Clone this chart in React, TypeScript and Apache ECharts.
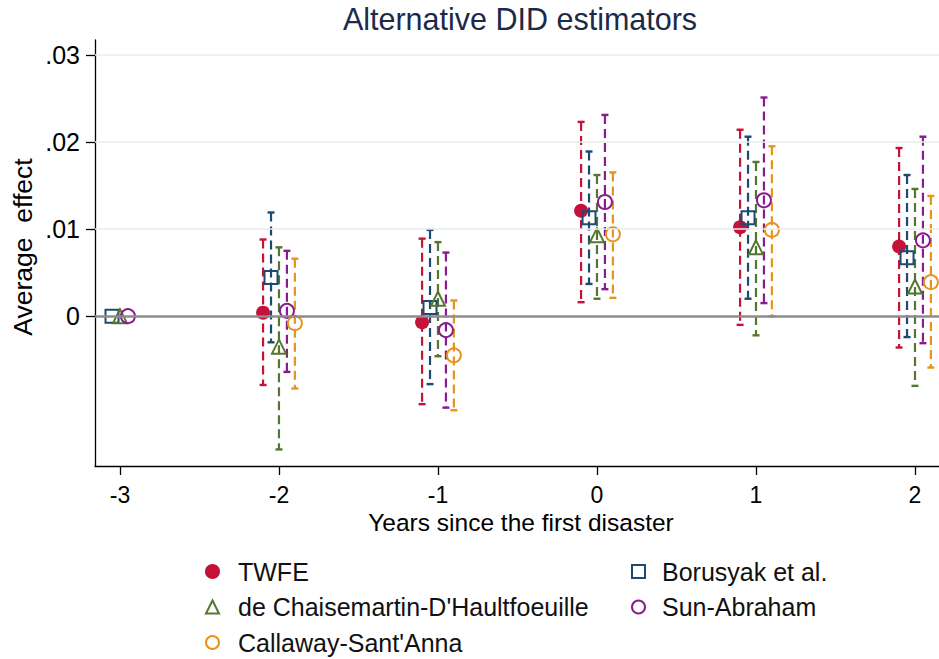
import { useEffect, useRef } from "react";
import * as echarts from "echarts";

// ---- data ----
const periods = [-3, -2, -1, 0, 1, 2];
const xTicks = [-3, -2, -1, 0, 1, 2];
const yTicks = [0, 0.01, 0.02, 0.03];

const seriesNames = [
  "TWFE",
  "Borusyak et al.",
  "de Chaisemartin-D'Haultfoeuille",
  "Sun-Abraham",
  "Callaway-Sant'Anna",
];

const twfeEst = [null, 0.0004, -0.0007, 0.0121, 0.0102, 0.008];
const twfeLo = [null, -0.0079, -0.0101, 0.0016, -0.001, -0.0036];
const twfeHi = [null, 0.0088, 0.0089, 0.0223, 0.0214, 0.0193];

const borEst = [0, 0.00445, 0.001, 0.0113, 0.0113, 0.0067];
const borLo = [null, -0.003, -0.0078, 0.0037, 0.002, -0.0024];
const borHi = [null, 0.0119, 0.0099, 0.0189, 0.0206, 0.0162];

const dcdhEst = [0, -0.0035, 0.002, 0.0093, 0.0079, 0.0034];
const dcdhLo = [null, -0.0153, -0.0046, 0.002, -0.0022, -0.008];
const dcdhHi = [null, 0.0079, 0.0085, 0.0162, 0.0177, 0.0146];

const saEst = [0, 0.0006, -0.0016, 0.0131, 0.0133, 0.0087];
const saLo = [null, -0.0064, -0.0105, 0.0031, 0.0015, -0.0031];
const saHi = [null, 0.0075, 0.0073, 0.0231, 0.0251, 0.0206];

const csaEst = [null, -0.0008, -0.0045, 0.0094, 0.0099, 0.0039];
const csaLo = [null, -0.0083, -0.0108, 0.0021, 0.0, -0.0059];
const csaHi = [null, 0.0066, 0.0018, 0.0165, 0.0195, 0.0138];

// ---- styling ----
const FONT = "'Liberation Sans', Arial, Helvetica, sans-serif";
const colors = ["#c41239", "#1b4a72", "#55762f", "#8a1a90", "#e8931c"];
const symbols = ["circle", "rect", "triangle", "circle", "circle"];
const symbolSizes = [14, 13, 14, 14, 14];
const filled = [true, false, false, false, false];
const offsets = [-0.1, -0.05, 0, 0.05, 0.1];

const estimates = [twfeEst, borEst, dcdhEst, saEst, csaEst];
const lows = [twfeLo, borLo, dcdhLo, saLo, csaLo];
const highs = [twfeHi, borHi, dcdhHi, saHi, csaHi];

function buildOption() {
  const series: any[] = [];

  // error bars
  seriesNames.forEach((name, i) => {
    const data: number[][] = [];
    periods.forEach((p, k) => {
      const lo = lows[i][k];
      const hi = highs[i][k];
      if (lo !== null && hi !== null) data.push([p + offsets[i], lo as number, hi as number]);
    });
    const color = colors[i];
    const s: any = {
      name: name + " CI",
      type: "custom",
      z: 2,
      silent: true,
      encode: { x: 0, y: [1, 2] },
      data,
      renderItem: (_params: any, api: any) => {
        const x = api.value(0);
        const pLo = api.coord([x, api.value(1)]);
        const pHi = api.coord([x, api.value(2)]);
        const cw = 3.5;
        return {
          type: "group",
          children: [
            {
              type: "line",
              shape: { x1: pHi[0], y1: pHi[1], x2: pLo[0], y2: pLo[1] },
              style: { stroke: color, lineWidth: 2.2, lineDash: [9, 5] },
            },
            {
              type: "line",
              shape: { x1: pHi[0] - cw, y1: pHi[1], x2: pHi[0] + cw, y2: pHi[1] },
              style: { stroke: color, lineWidth: 2.4 },
            },
            {
              type: "line",
              shape: { x1: pLo[0] - cw, y1: pLo[1], x2: pLo[0] + cw, y2: pLo[1] },
              style: { stroke: color, lineWidth: 2.4 },
            },
          ],
        };
      },
    };
    if (i === 0) {
      s.markLine = {
        silent: true,
        symbol: "none",
        label: { show: false },
        animation: false,
        data: [
          { yAxis: 0.01, lineStyle: { color: "#e6eef0", width: 1.5, type: "solid" } },
          { yAxis: 0.02, lineStyle: { color: "#e6eef0", width: 1.5, type: "solid" } },
          { yAxis: 0.03, lineStyle: { color: "#e6eef0", width: 1.5, type: "solid" } },
          { yAxis: 0, lineStyle: { color: "#8c8c8c", width: 2.5, type: "solid" } },
        ],
      };
    }
    series.push(s);
  });

  // point estimates
  seriesNames.forEach((name, i) => {
    const data: number[][] = [];
    periods.forEach((p, k) => {
      const v = estimates[i][k];
      if (v !== null) data.push([p + offsets[i], v as number]);
    });
    series.push({
      name,
      type: "scatter",
      z: 3,
      symbol: symbols[i],
      symbolSize: symbolSizes[i],
      data,
      itemStyle: {
        color: filled[i] ? colors[i] : "transparent",
        borderColor: colors[i],
        borderWidth: filled[i] ? 0 : 2,
        opacity: 1,
      },
    });
  });

  const legendCommon = {
    orient: "vertical",
    top: 559,
    padding: 0,
    itemWidth: 13,
    itemHeight: 13,
    itemGap: 10.5,
    selectedMode: false,
    symbolKeepAspect: true,
    itemStyle: { borderWidth: 2 },
  };

  return {
    animation: false,
    backgroundColor: "#ffffff",
    textStyle: { fontFamily: FONT },
    grid: { left: 95, right: 0, top: 40, bottom: 193 },
    xAxis: {
      type: "value",
      min: -3.157,
      max: 2.151,
      axisLine: { show: true, onZero: false, lineStyle: { color: "#000", width: 1.3 } },
      axisTick: { show: true, customValues: xTicks, length: 9, lineStyle: { color: "#000", width: 1.3 } },
      axisLabel: {
        customValues: xTicks,
        margin: 20,
        fontSize: 23,
        lineHeight: 18,
        color: "#000",
        fontFamily: FONT,
        formatter: (v: number) => String(v),
      },
      splitLine: { show: false },
    },
    yAxis: {
      type: "value",
      min: -0.0172,
      max: 0.0317,
      axisLine: { show: true, onZero: false, lineStyle: { color: "#000", width: 1.3 } },
      axisTick: { show: true, customValues: yTicks, length: 9, lineStyle: { color: "#000", width: 1.3 } },
      axisLabel: {
        customValues: yTicks,
        margin: 15,
        fontSize: 25,
        color: "#000",
        fontFamily: FONT,
        formatter: (v: number) => (v === 0 ? "0" : String(v).replace(/^0\./, ".")),
      },
      splitLine: { show: false },
    },
    legend: [
      {
        ...legendCommon,
        data: [seriesNames[0], seriesNames[2], seriesNames[4]],
        left: 205,
        textStyle: {
          fontSize: 25,
          lineHeight: 25,
          color: "#111",
          fontFamily: FONT,
          padding: [0, 0, 0, 14],
        },
      },
      {
        ...legendCommon,
        data: [seriesNames[1], seriesNames[3]],
        left: 631,
        textStyle: {
          fontSize: 25,
          lineHeight: 25,
          color: "#111",
          fontFamily: FONT,
          padding: [0, 0, 0, 12],
        },
      },
    ],
    graphic: [
      {
        type: "text",
        x: 520,
        y: 19,
        style: {
          text: "Alternative DID estimators",
          fontSize: 30.5,
          fontFamily: FONT,
          fill: "#1c2a4a",
          textAlign: "center",
          textVerticalAlign: "middle",
        },
      },
      {
        type: "text",
        x: 521,
        y: 522,
        style: {
          text: "Years since the first disaster",
          fontSize: 24.5,
          lineHeight: 20,
          fontFamily: FONT,
          fill: "#000",
          textAlign: "center",
          textVerticalAlign: "middle",
        },
      },
      {
        type: "text",
        x: 23,
        y: 247,
        rotation: Math.PI / 2,
        style: {
          text: "Average  effect",
          fontSize: 26.5,
          fontFamily: FONT,
          fill: "#000",
          textAlign: "center",
          textVerticalAlign: "middle",
        },
      },
    ],
    series,
  };
}

export default function App() {
  const ref = useRef<HTMLDivElement>(null);
  useEffect(() => {
    if (!ref.current) return;
    const chart = echarts.init(ref.current, null, { renderer: "svg" });
    chart.setOption(buildOption() as any);
    return () => chart.dispose();
  }, []);
  return (
    <div
      ref={ref}
      style={{ position: "fixed", left: 0, top: 0, width: 939, height: 659, background: "#fff" }}
    />
  );
}
